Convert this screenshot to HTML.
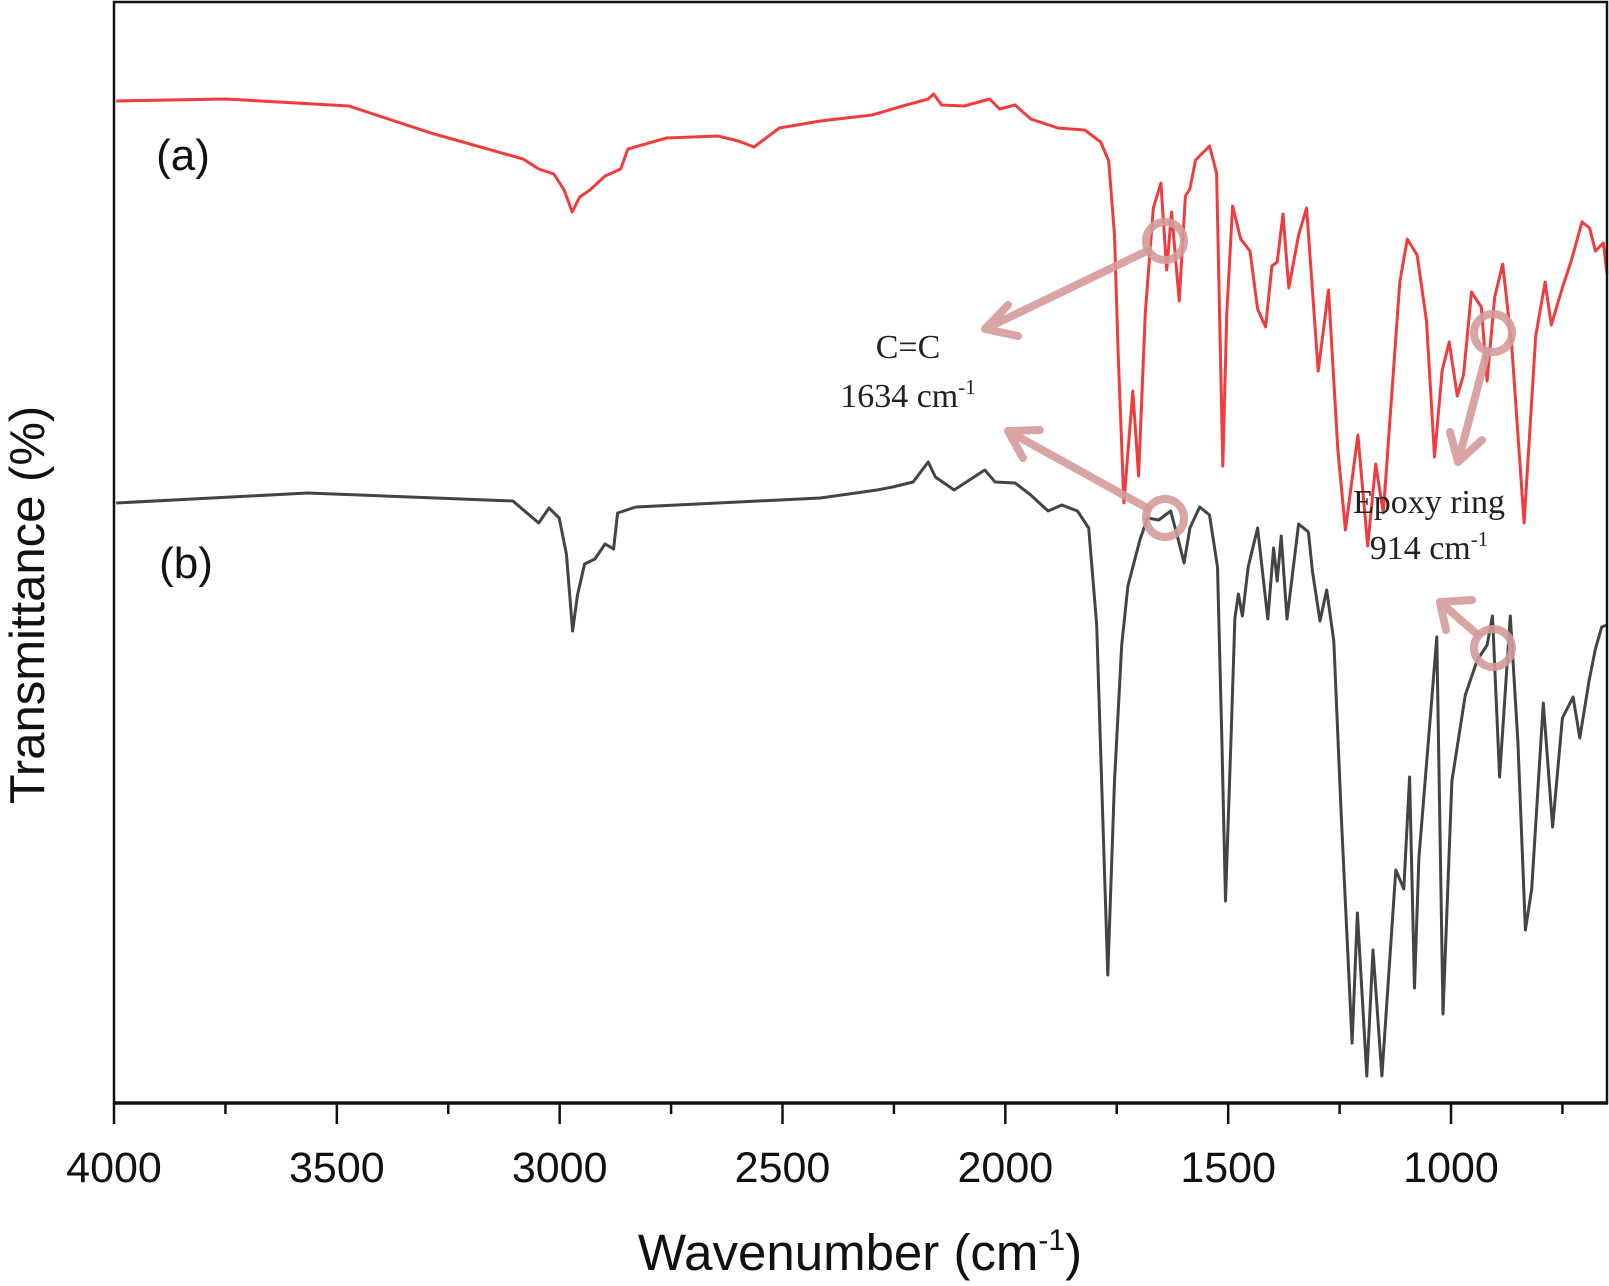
<!DOCTYPE html>
<html><head><meta charset="utf-8"><style>
html,body{margin:0;padding:0;background:#fff;}
svg{display:block;}
</style></head><body>
<svg id="chart" width="1609" height="1286" viewBox="0 0 1609 1286" xmlns="http://www.w3.org/2000/svg">
<g id="marks"></g>
<rect x="114" y="2" width="1493" height="1101" fill="none" stroke="#111" stroke-width="2.5"/>
<line x1="113" y1="1103" x2="1608" y2="1103" stroke="#111" stroke-width="3.5"/>
<g id="ticks"></g>
<text x="860" y="1270" text-anchor="middle" font-family="Liberation Sans, sans-serif" font-size="51" fill="#111">Wavenumber (cm<tspan dy="-20" font-size="30">-1</tspan><tspan dy="20">)</tspan></text>
<text transform="translate(44,605) rotate(-90)" text-anchor="middle" font-family="Liberation Sans, sans-serif" font-size="49" fill="#111">Transmittance (%)</text>
<text x="183" y="170" text-anchor="middle" font-family="Liberation Sans, sans-serif" font-size="44" fill="#111">(a)</text>
<text x="186" y="578" text-anchor="middle" font-family="Liberation Sans, sans-serif" font-size="44" fill="#111">(b)</text>
<g stroke="#d49a9a" stroke-opacity="0.9" stroke-width="8" fill="none" stroke-linecap="round">
<circle cx="1165" cy="241" r="19"/>
<circle cx="1165" cy="518" r="19"/>
<circle cx="1493" cy="333" r="19"/>
<circle cx="1493" cy="648" r="19"/>
<path d="M1147 251 L985 329 M985 329 L1008 305 M985 329 L1018 336"/>
<path d="M1147 508 L1008 431 M1008 431 L1040 430 M1008 431 L1023 458"/>
<path d="M1487 352 L1458 462 M1458 462 L1450 432 M1458 462 L1482 440"/>
<path d="M1478 635 L1440 602 M1440 602 L1472 600 M1440 602 L1446 630"/>
</g>
<g font-family="Liberation Serif, serif" font-size="34" fill="#222" text-anchor="middle">
<text x="908" y="358">C=C</text>
<text x="908" y="407">1634 cm<tspan dy="-13" font-size="21">-1</tspan></text>
<text x="1429" y="513">Epoxy ring</text>
<text x="1429" y="559">914 cm<tspan dy="-13" font-size="21">-1</tspan></text>
</g>
</svg>
<script>
const xTicks = [4000, 3500, 3000, 2500, 2000, 1500, 1000];
const xMinorTicks = [3750, 3250, 2750, 2250, 1750, 1250, 750];
const redW = [3995,3749,3473,3289,3082,3047,3013,2990,2972,2955,2932,2898,2863,2847,2760,2645,2599,2564,2507,2415,2299,2230,2173,2161,2143,2092,2035,2013,1978,1943,1882,1822,1786,1768,1755,1747,1734,1714,1701,1686,1668,1651,1638,1627,1610,1596,1586,1573,1542,1526,1512,1503,1490,1472,1451,1434,1416,1402,1390,1377,1364,1342,1324,1298,1275,1254,1237,1209,1187,1169,1152,1115,1098,1076,1055,1037,1020,1004,986,972,954,932,919,902,884,864,836,810,789,775,749,731,706,689,676,658,650];
const redT = [100.2,100.4,99.7,97.0,94.4,93.4,92.9,91.3,89.1,90.6,91.3,92.7,93.4,95.4,96.5,96.7,96.2,95.6,97.5,98.2,98.8,99.7,100.4,100.9,99.8,99.7,100.4,99.4,99.8,98.4,97.5,97.3,96.1,94.2,86.8,75.1,60.0,71.2,62.7,79.0,89.5,92.0,83.3,89.1,80.2,90.7,91.4,94.3,95.7,93.0,63.7,79.0,89.7,86.4,85.2,79.4,77.6,83.7,84.1,88.9,81.5,86.8,89.5,73.2,81.3,65.4,57.3,66.8,55.7,63.9,59.0,82.1,86.4,84.8,78.2,64.6,73.2,76.1,70.7,72.8,81.1,79.6,72.2,80.6,83.9,75.9,58.0,76.7,82.1,77.8,81.7,84.1,88.1,87.5,85.2,86.0,82.9];
const blackW = [3995,3565,3105,3047,3024,3001,2985,2971,2960,2944,2921,2898,2879,2870,2829,2645,2415,2288,2253,2207,2173,2157,2115,2046,2023,1978,1943,1904,1873,1838,1813,1795,1784,1770,1755,1739,1725,1698,1681,1656,1629,1612,1599,1586,1564,1542,1524,1514,1506,1494,1485,1477,1468,1455,1434,1411,1398,1390,1381,1368,1342,1320,1311,1294,1279,1263,1246,1222,1210,1189,1175,1155,1124,1106,1093,1082,1072,1032,1018,998,968,941,919,907,891,867,850,833,819,793,772,750,726,711,690,676,662,650];
const blackT = [60.0,61.0,60.2,58.0,59.5,58.5,54.9,47.2,50.8,53.9,54.4,55.9,55.4,59.0,59.6,60.0,60.5,61.3,61.6,62.1,64.1,62.6,61.3,63.3,62.1,62.0,60.8,59.2,59.8,59.2,57.5,47.8,32.2,12.8,32.2,45.8,51.7,56.3,58.5,58.3,59.2,56.3,54.0,57.5,59.6,58.8,53.6,36.1,20.2,36.1,48.5,50.9,48.7,53.6,57.5,48.4,55.5,52.2,56.7,48.4,57.9,57.1,53.2,48.2,51.3,46.2,28.4,6.0,19.0,2.7,15.3,2.7,23.3,21.4,32.6,11.5,24.5,46.6,8.9,32.2,40.8,44.3,45.8,48.7,32.6,48.7,36.1,17.3,21.4,40.0,27.6,38.5,40.6,36.5,42.3,45.4,47.6,47.8];

const NS = 'http://www.w3.org/2000/svg';
function xScale(w){ return 114 + (4000 - w) * (1493 / 3350); }
function yScale(t){ return 1103 - t * 10; }
const marks = document.getElementById('marks');
function drawLine(ws, ts, color, name){
  let d = '';
  for (let i = 0; i < ws.length; i++) d += (i ? 'L' : 'M') + xScale(ws[i]).toFixed(1) + ' ' + yScale(ts[i]).toFixed(1);
  const p = document.createElementNS(NS, 'path');
  p.setAttribute('d', d);
  p.setAttribute('fill', 'none');
  p.setAttribute('stroke', color);
  p.setAttribute('stroke-width', '3');
  p.setAttribute('stroke-linejoin', 'round');
  
  
  marks.appendChild(p);
}
drawLine(redW, redT, '#f03c3c', 'series-a-line');
drawLine(blackW, blackT, '#444444', 'series-b-line');

const ticks = document.getElementById('ticks');
xTicks.forEach(v => {
  const x = xScale(v);
  const l = document.createElementNS(NS, 'line');
  l.setAttribute('x1', x); l.setAttribute('x2', x);
  l.setAttribute('y1', 1103); l.setAttribute('y2', 1124);
  l.setAttribute('stroke', '#111'); l.setAttribute('stroke-width', '2.5');
  
  
  ticks.appendChild(l);
  const t = document.createElementNS(NS, 'text');
  t.setAttribute('x', x); t.setAttribute('y', 1182);
  t.setAttribute('text-anchor', 'middle');
  t.setAttribute('font-family', 'Liberation Sans, sans-serif');
  t.setAttribute('font-size', '43');
  t.setAttribute('fill', '#111');
  t.textContent = v;
  
  
  ticks.appendChild(t);
});
xMinorTicks.forEach(v => {
  const x = xScale(v);
  const l = document.createElementNS(NS, 'line');
  l.setAttribute('x1', x); l.setAttribute('x2', x);
  l.setAttribute('y1', 1103); l.setAttribute('y2', 1114);
  l.setAttribute('stroke', '#111'); l.setAttribute('stroke-width', '2.5');
  
  
  ticks.appendChild(l);
});
</script>
</body></html>
